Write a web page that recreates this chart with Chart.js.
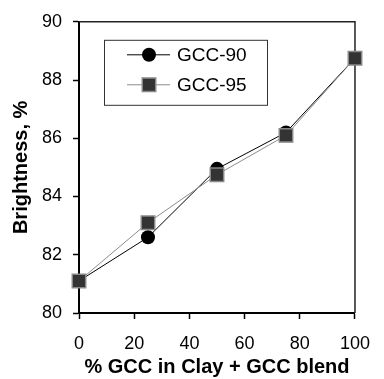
<!DOCTYPE html>
<html lang="en">
<head>
<meta charset="UTF-8">
<title>Brightness vs % GCC</title>
<script src="https://cdn.jsdelivr.net/npm/chart.js"></script>
<style>
  html, body { margin: 0; padding: 0; background: #fff; }
  #wrap { width: 384px; height: 379px; }
</style>
</head>
<body>
<div id="wrap"><canvas id="chart"></canvas></div>
<script>
// data
const gccShare = [0, 25, 50, 75, 100];
const gcc90 = [81.1, 82.6, 84.95, 86.2, 88.75];
const gcc95 = [81.1, 83.1, 84.75, 86.1, 88.75];
const seriesNames = ["GCC-90", "GCC-95"];
const xTicks = [0, 20, 40, 60, 80, 100];
const yTicks = [80, 82, 84, 86, 88, 90];

const FONT = "'Liberation Sans', Arial, sans-serif";

// box round the plot area (top and right sides too)
const framePlugin = {
    id: "frame",
    beforeDatasetsDraw(chart) {
        const { ctx, chartArea: a } = chart;
        ctx.save();
        ctx.strokeStyle = "#222";
        ctx.lineWidth = 1.5;
        ctx.beginPath();
        ctx.moveTo(a.left, a.top);
        ctx.lineTo(a.right, a.top);
        ctx.lineTo(a.right, a.bottom);
        ctx.stroke();
        ctx.restore();
    }
};

// boxed legend inside the plot, line + marker samples
const boxLegend = {
    id: "boxLegend",
    afterDraw(chart) {
        const { ctx, chartArea: a } = chart;
        const x0 = a.left + 25, y0 = a.top + 18, w = 163, h = 65;
        ctx.save();
        ctx.fillStyle = "#fff";
        ctx.fillRect(x0, y0, w, h);
        ctx.strokeStyle = "#333";
        ctx.lineWidth = 1;
        ctx.strokeRect(x0 + 0.5, y0 + 0.5, w, h);

        chart.data.datasets.forEach((ds, i) => {
            const y = y0 + 15 + i * 30;
            ctx.strokeStyle = ds.borderColor;
            ctx.lineWidth = 1;
            ctx.beginPath();
            ctx.moveTo(x0 + 23, y);
            ctx.lineTo(x0 + 66, y);
            ctx.stroke();

            ctx.fillStyle = ds.pointBackgroundColor;
            ctx.strokeStyle = ds.pointBorderColor;
            ctx.lineWidth = ds.pointBorderWidth;
            ctx.beginPath();
            if (ds.pointStyle === "circle") {
                ctx.arc(x0 + 45, y, ds.pointRadius, 0, Math.PI * 2);
            } else {
                const s = ds.pointRadius * Math.SQRT1_2;
                ctx.rect(x0 + 45 - s, y - s, 2 * s, 2 * s);
            }
            ctx.fill();
            if (ds.pointBorderWidth) ctx.stroke();

            ctx.fillStyle = "#000";
            ctx.font = "19px " + FONT;
            ctx.textBaseline = "middle";
            ctx.fillText(ds.label, x0 + 73, y + 1);
        });
        ctx.restore();
    }
};

new Chart(document.getElementById("chart"), {
    type: "line",
    data: {
        datasets: [
            {
                label: seriesNames[0],
                data: gccShare.map((x, i) => ({ x: x, y: gcc90[i] })),
                borderColor: "#000",
                borderWidth: 1,
                pointStyle: "circle",
                pointRadius: 7,
                pointBackgroundColor: "#000",
                pointBorderColor: "#000",
                pointBorderWidth: 0,
                order: 1,
                clip: false
            },
            {
                label: seriesNames[1],
                data: gccShare.map((x, i) => ({ x: x, y: gcc95[i] })),
                borderColor: "#8c8c8c",
                borderWidth: 1,
                pointStyle: "rect",
                pointRadius: 9.5,
                pointBackgroundColor: "#333",
                pointBorderColor: "#888",
                pointBorderWidth: 1.5,
                order: 0,
                clip: false
            }
        ]
    },
    options: {
        responsive: true,
        maintainAspectRatio: false,
        animation: false,
        layout: { padding: { top: 20, right: 18, left: 0, bottom: 0 } },
        plugins: {
            legend: { display: false },
            tooltip: { enabled: false }
        },
        scales: {
            x: {
                type: "linear",
                min: 0,
                max: 100,
                afterBuildTicks: s => { s.ticks = xTicks.map(v => ({ value: v })); },
                afterFit: s => { s.height = 66; },
                grid: { drawOnChartArea: false, tickLength: 6, color: "#000", tickWidth: 1.5 },
                border: { color: "#000", width: 2 },
                ticks: { color: "#000", padding: 14, maxRotation: 0, font: { family: FONT, size: 18 } },
                title: {
                    display: true,
                    text: "% GCC in Clay + GCC blend",
                    color: "#000",
                    padding: { top: 0, bottom: 0 },
                    font: { family: FONT, size: 20, weight: "bold" }
                }
            },
            y: {
                min: 80,
                max: 90,
                afterBuildTicks: s => { s.ticks = yTicks.map(v => ({ value: v })); },
                afterFit: s => { s.width = 79; },
                grid: { drawOnChartArea: false, tickLength: 6, color: "#000", tickWidth: 1.5 },
                border: { color: "#000", width: 2 },
                ticks: { color: "#000", padding: 11, font: { family: FONT, size: 18 } },
                title: {
                    display: true,
                    text: "Brightness, %",
                    color: "#000",
                    padding: { top: 9, bottom: 0 },
                    font: { family: FONT, size: 20, weight: "bold" }
                }
            }
        }
    },
    plugins: [framePlugin, boxLegend]
});
</script>
</body>
</html>
